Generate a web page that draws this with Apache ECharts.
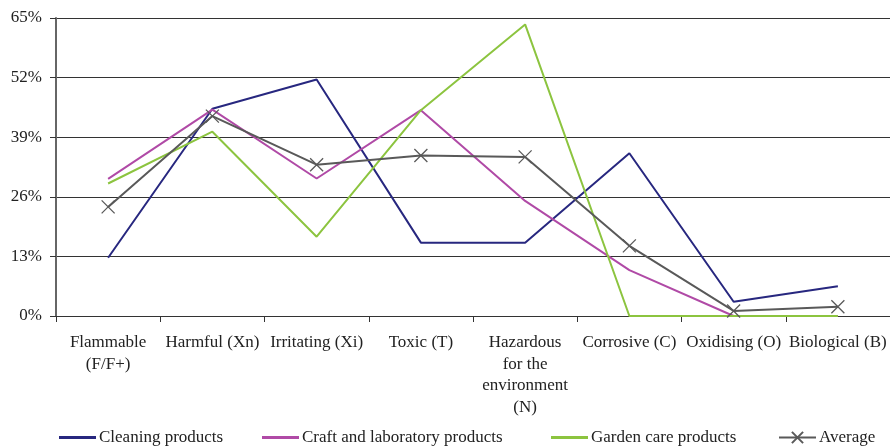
<!DOCTYPE html>
<html><head><meta charset="utf-8">
<script src="https://cdn.jsdelivr.net/npm/echarts@6/dist/echarts.min.js"></script>
<style>html,body{margin:0;padding:0;background:#fff}#c{width:890px;height:447px}</style>
</head><body><div id="c"></div>
<script>
const categories = ["Flammable\n(F/F+)", "Harmful (Xn)", "Irritating (Xi)", "Toxic (T)", "Hazardous\nfor the\nenvironment\n(N)", "Corrosive (C)", "Oxidising (O)", "Biological (B)"];
const cleaning = [12.7, 45.2, 51.6, 16.0, 16.0, 35.5, 3.1, 6.5];
const craft = [29.9, 45.0, 30.0, 44.9, 25.1, 10.0, 0, 0];
const garden = [28.9, 40.2, 17.3, 44.9, 63.6, 0, 0, 0];
const average = [23.8, 43.6, 33.0, 35.0, 34.7, 15.3, 1.1, 2.0];
const yTicks = [0, 13, 26, 39, 52, 65];

const font = "'Liberation Serif', 'DejaVu Serif', serif";
const chart = echarts.init(document.getElementById('c'));
const lineSeries = (name, data, color) => ({
  name, type: 'line', data, symbol: 'none', showSymbol: false,
  lineStyle: { color, width: 2 }, itemStyle: { color }, z: 3
});
const mkLegend = (name, left, icon) => {
  const l = {
    data: [name], left, top: 429, itemWidth: 37, itemHeight: icon ? 3 : 14,
    textStyle: { fontFamily: font, fontSize: 17, color: '#222', padding: [0,0,0,-2] },
    padding: 0
  };
  if (icon) l.icon = icon;
  return l;
};
chart.setOption({
  animation: false,
  grid: { left: 56, top: 18, width: 839, bottom: 131, containLabel: false },
  legend: [
    mkLegend('Cleaning products', 59, 'rect'),
    mkLegend('Craft and laboratory products', 262, 'rect'),
    mkLegend('Garden care products', 551, 'rect'),
    mkLegend('Average', 778)
  ],
  xAxis: {
    type: 'category', data: categories, boundaryGap: true,
    axisLine: { lineStyle: { color: '#333', width: 1 } },
    axisTick: { show: true, length: 6, lineStyle: { color: '#333' }, alignWithLabel: false },
    axisLabel: { fontFamily: font, fontSize: 17, color: '#222', margin: 16, lineHeight: 21.5, interval: 0 }
  },
  yAxis: {
    type: 'value', min: 0, max: 65, interval: 13,
    axisLine: { show: true, lineStyle: { color: '#666', width: 2 } },
    axisTick: { show: true, length: 6, lineStyle: { color: '#333' } },
    splitLine: { lineStyle: { color: '#333', width: 1 } },
    axisLabel: { fontFamily: font, fontSize: 17, color: '#222', margin: 14,
      formatter: v => yTicks.includes(v) ? v + '%' : '' }
  },
  series: [
    lineSeries('Cleaning products', cleaning, '#27277f'),
    lineSeries('Craft and laboratory products', craft, '#b04aa6'),
    lineSeries('Garden care products', garden, '#8cc43f'),
    {
      name: 'Average', type: 'line', data: average,
      symbol: 'path://M0,0L10,10M10,0L0,10', symbolSize: 13,
      lineStyle: { color: '#595959', width: 2 },
      itemStyle: { color: 'none', borderColor: '#595959', borderWidth: 1.3 }, z: 4
    }
  ]
});
</script></body></html>
